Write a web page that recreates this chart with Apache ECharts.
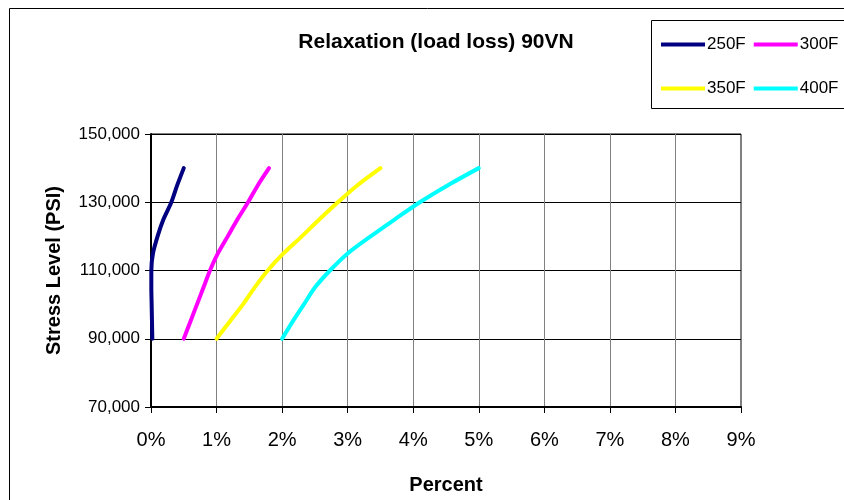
<!DOCTYPE html>
<html><head><meta charset="utf-8">
<script src="https://cdn.jsdelivr.net/npm/echarts@6/dist/echarts.min.js"></script>
<style>html,body{margin:0;padding:0;background:#fff}#c{width:844px;height:500px}</style>
</head><body><div id="c"></div>
<script>
const stressLevels = [90000, 95000, 100000, 105000, 110000, 115000, 120000, 125000, 130000, 135000, 140000];
const pct250F = [0.02, 0.015, 0.01, 0.005, 0.005, 0.03, 0.1, 0.19, 0.31, 0.4, 0.5];
const pct300F = [0.5, 0.6, 0.7, 0.8, 0.9, 1.02, 1.17, 1.32, 1.48, 1.63, 1.8];
const pct350F = [1.0, 1.2, 1.4, 1.58, 1.78, 2.02, 2.3, 2.57, 2.85, 3.15, 3.5];
const pct400F = [2.0, 2.16, 2.33, 2.5, 2.73, 3.0, 3.35, 3.72, 4.1, 4.53, 5.0];
const seriesNames = ['250F', '300F', '350F', '400F'];
const seriesColors = ['#000080', '#FF00FF', '#FFFF00', '#00FFFF'];
const xTicks = [0, 1, 2, 3, 4, 5, 6, 7, 8, 9];
const yTicks = [70000, 90000, 110000, 130000, 150000];

const allPct = [pct250F, pct300F, pct350F, pct400F];
const FONT = 'Liberation Sans, Arial, sans-serif';
const chart = echarts.init(document.getElementById('c'), null, {renderer: 'canvas'});
const series = seriesNames.map((n, i) => ({
  name: n, type: 'line', smooth: 0.3, showSymbol: false, symbol: 'none',
  data: allPct[i].map((x, j) => [x, stressLevels[j]]),
  lineStyle: {color: seriesColors[i], width: 4, cap: 'round', join: 'round'}, itemStyle: {color: seriesColors[i]},
  emphasis: {disabled: true}
}));
const legendCommon = {
  icon: 'rect', itemWidth: 44, itemHeight: 4, itemGap: 8, orient: 'horizontal',
  textStyle: {fontFamily: FONT, fontSize: 17, color: '#000', padding: [0, 0, 0, -3]},
  selectedMode: false
};
chart.setOption({
  animation: false,
  backgroundColor: '#fff',
  title: {text: 'Relaxation (load loss) 90VN', left: 431, top: 27, textAlign: 'center',
    textStyle: {fontFamily: FONT, fontSize: 21, fontWeight: 'bold', color: '#000'}},
  legend: [
    Object.assign({}, legendCommon, {data: seriesNames.slice(0, 2), left: 656, top: 31}),
    Object.assign({}, legendCommon, {data: seriesNames.slice(2, 4), left: 656, top: 75})
  ],
  graphic: [
    {type: 'rect', shape: {x: 9.5, y: 8.5, width: 900, height: 600}, style: {fill: null, stroke: '#000', lineWidth: 1}, silent: true, z: -1},
    {type: 'rect', shape: {x: 651.5, y: 20.5, width: 250, height: 88}, style: {fill: '#fff', stroke: '#000', lineWidth: 1}, silent: true, z: 0}
  ],
  grid: {left: 151, right: 103, top: 134, bottom: 93, show: true, borderColor: '#000', borderWidth: 1},
  xAxis: {
    type: 'value', min: 0, max: 9, interval: 1,
    name: 'Percent', nameLocation: 'middle', nameGap: 68,
    nameTextStyle: {fontFamily: FONT, fontSize: 20, fontWeight: 'bold', color: '#000'},
    axisLine: {onZero: false, lineStyle: {color: '#000', width: 2}},
    axisTick: {show: true, length: 6, lineStyle: {color: '#000'}},
    axisLabel: {fontFamily: FONT, fontSize: 20, color: '#000', margin: 23,
      formatter: v => xTicks.includes(v) ? v + '%' : ''},
    splitLine: {show: true, lineStyle: {color: '#808080', width: 1}}
  },
  yAxis: {
    type: 'value', min: 70000, max: 150000, interval: 20000,
    name: 'Stress Level (PSI)', nameLocation: 'middle', nameGap: 87, nameRotate: 90,
    nameTextStyle: {fontFamily: FONT, fontSize: 20, fontWeight: 'bold', color: '#000'},
    axisLine: {show: true, lineStyle: {color: '#000', width: 2}},
    axisTick: {show: true, length: 6, lineStyle: {color: '#000'}},
    axisLabel: {fontFamily: FONT, fontSize: 17, color: '#000', margin: 11,
      formatter: v => yTicks.includes(v) ? v.toLocaleString('en-US') : ''},
    splitLine: {show: true, lineStyle: {color: '#000', width: 1}}
  },
  series: series
});
</script></body></html>
